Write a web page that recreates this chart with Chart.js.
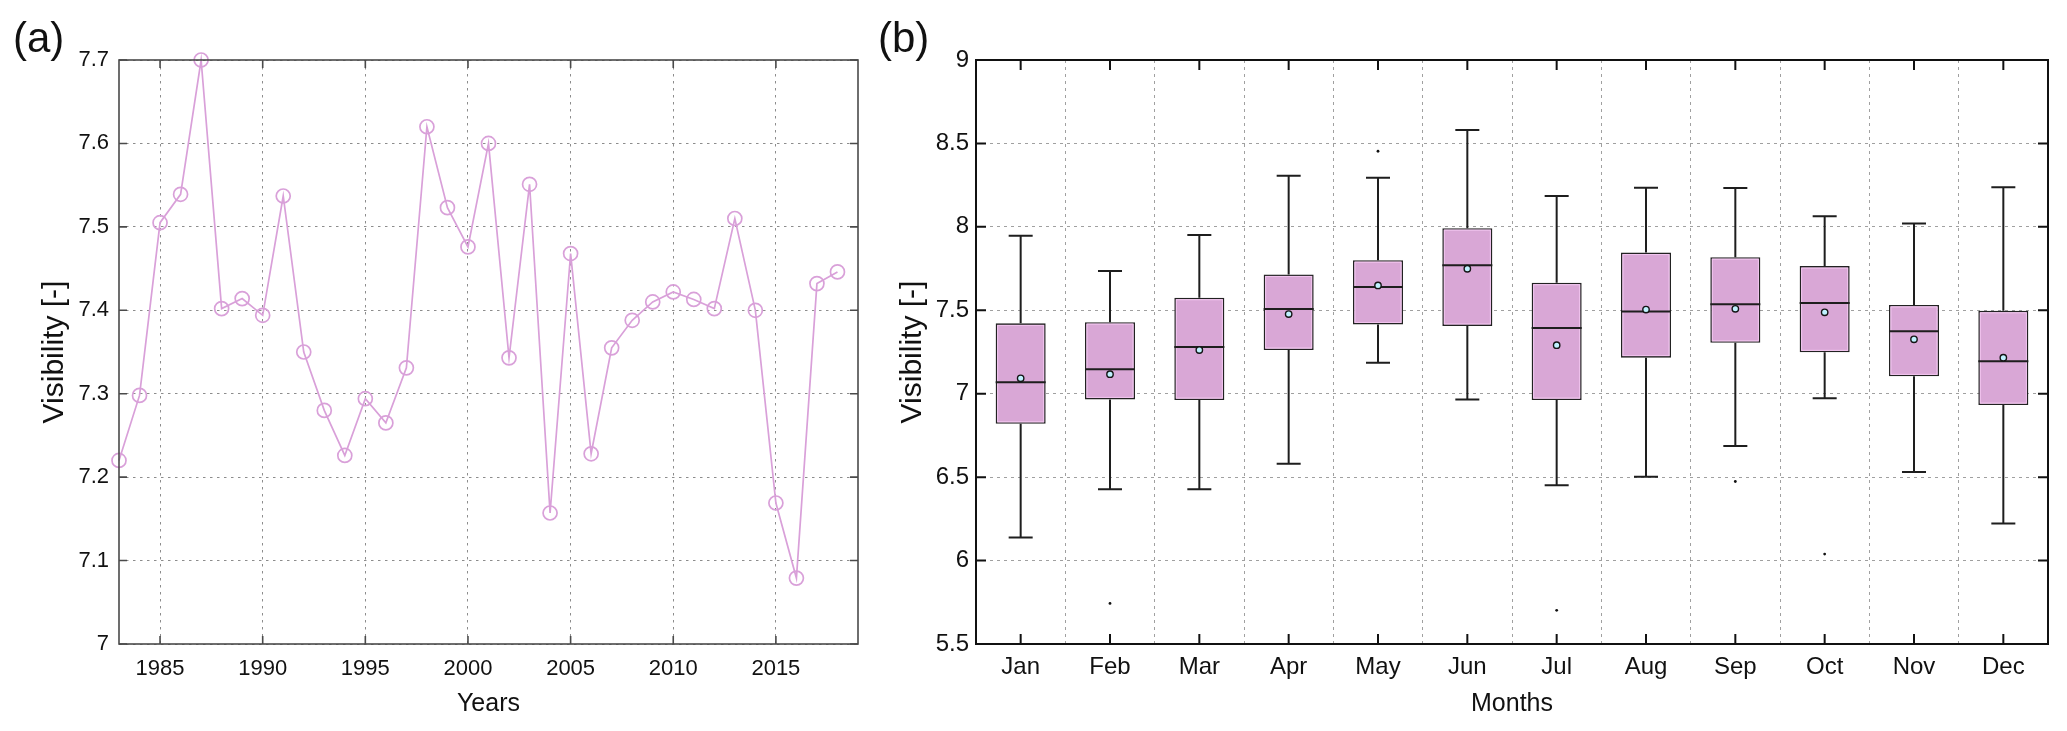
<!DOCTYPE html>
<html>
<head>
<meta charset="utf-8">
<script src="https://cdn.jsdelivr.net/npm/chart.js@4.4.0/dist/chart.umd.min.js"></script>
<style>
  html, body { margin: 0; padding: 0; background: #fff; }
  body { width: 2067px; height: 731px; position: relative; overflow: hidden; font-family: "Liberation Sans", Arial, sans-serif; }
  .wrap { position: absolute; top: 0; height: 731px; }
  .panel { position: absolute; font-size: 42px; line-height: 42px; color: #111; z-index: 2; }
</style>
</head>
<body>
<div class="wrap" style="left:0;width:880px"><canvas id="yearChart" width="880" height="731"></canvas></div>
<div class="wrap" style="left:880px;width:1187px"><canvas id="monthChart" width="1187" height="731"></canvas></div>
<div class="panel" style="left:13px;top:17px">(a)</div>
<div class="panel" style="left:878px;top:17px">(b)</div>
<script>
// (a) yearly mean visibility
const years = [1983, 1984, 1985, 1986, 1987, 1988, 1989, 1990, 1991, 1992, 1993, 1994,
  1995, 1996, 1997, 1998, 1999, 2000, 2001, 2002, 2003, 2004, 2005, 2006,
  2007, 2008, 2009, 2010, 2011, 2012, 2013, 2014, 2015, 2016, 2017, 2018];
const yearlyVisibility = [7.220, 7.298, 7.505, 7.539, 7.700, 7.402, 7.414, 7.394, 7.537, 7.350, 7.280, 7.226,
  7.294, 7.265, 7.331, 7.620, 7.523, 7.476, 7.600, 7.343, 7.551, 7.157, 7.468, 7.228,
  7.355, 7.388, 7.410, 7.422, 7.413, 7.402, 7.510, 7.400, 7.169, 7.079, 7.432, 7.446];
const yearTicks = [1985, 1990, 1995, 2000, 2005, 2010, 2015];
const yearlyValueTicks = [7, 7.1, 7.2, 7.3, 7.4, 7.5, 7.6, 7.7];

// (b) monthly box plots
const months = ['Jan', 'Feb', 'Mar', 'Apr', 'May', 'Jun', 'Jul', 'Aug', 'Sep', 'Oct', 'Nov', 'Dec'];
const whiskerLow = [6.139, 6.428, 6.428, 6.581, 7.186, 6.966, 6.451, 6.503, 6.687, 6.973, 6.531, 6.222];
const quartile1 = [6.820, 6.966, 6.962, 7.262, 7.415, 7.406, 6.962, 7.216, 7.305, 7.248, 7.104, 6.932];
const medians = [7.069, 7.147, 7.280, 7.507, 7.640, 7.770, 7.394, 7.493, 7.536, 7.543, 7.374, 7.195];
const quartile3 = [7.422, 7.429, 7.575, 7.715, 7.800, 7.992, 7.665, 7.846, 7.818, 7.765, 7.532, 7.497];
const whiskerHigh = [7.946, 7.736, 7.951, 8.306, 8.295, 8.581, 8.185, 8.235, 8.233, 8.063, 8.020, 8.237];
const means = [7.092, 7.117, 7.262, 7.477, 7.649, 7.749, 7.291, 7.504, 7.509, 7.488, 7.326, 7.216];
const outlierMonths = ['Feb', 'May', 'Jul', 'Sep', 'Oct'];
const outlierValues = [5.743, 8.453, 5.702, 6.474, 6.039];
const monthlyValueTicks = [5.5, 6, 6.5, 7, 7.5, 8, 8.5, 9];

const FONT = '"Liberation Sans", Arial, sans-serif';
const PLUM = '#d9a0d9';

// box around the plot area with inward tick marks (matlab style)
const framePlugin = {
    id: 'frame',
    afterDraw(chart, args, opts) {
        const { ctx, chartArea: a, scales: { x, y } } = chart;
        ctx.save();
        ctx.setLineDash([]);
        ctx.strokeStyle = opts.color;
        ctx.lineWidth = opts.width;
        ctx.beginPath();
        x.ticks.forEach((t, i) => {
            const px = x.getPixelForTick(i);
            ctx.moveTo(px, a.bottom); ctx.lineTo(px, a.bottom - opts.tick);
            ctx.moveTo(px, a.top); ctx.lineTo(px, a.top + opts.tick);
        });
        y.ticks.forEach((t, i) => {
            const py = y.getPixelForTick(i);
            ctx.moveTo(a.left, py); ctx.lineTo(a.left + opts.tick, py);
            ctx.moveTo(a.right, py); ctx.lineTo(a.right - opts.tick, py);
        });
        ctx.stroke();
        ctx.strokeRect(a.left, a.top, a.right - a.left, a.bottom - a.top);
        ctx.restore();
    }
};

// whiskers, caps and median lines drawn right after the boxes
const boxPlugin = {
    id: 'boxParts',
    afterDatasetDraw(chart, args) {
        if (args.index !== 0) return;
        const { ctx, scales: { y } } = chart;
        ctx.save();
        ctx.setLineDash([]);
        args.meta.data.forEach((bar, i) => {
            const { x, y: top, base, width } = bar.getProps(['x', 'y', 'base', 'width'], true);
            const half = width / 2;
            const cap = width * 0.24;
            const yHi = y.getPixelForValue(whiskerHigh[i]);
            const yLo = y.getPixelForValue(whiskerLow[i]);
            const yMed = y.getPixelForValue(medians[i]);

            // light inner edge of the box
            ctx.strokeStyle = '#f3c6f0';
            ctx.lineWidth = 1;
            ctx.strokeRect(x - half + 2, top + 2, width - 4, base - top - 4);

            ctx.strokeStyle = '#1e1e1e';
            ctx.lineWidth = 2;
            ctx.beginPath();
            ctx.moveTo(x, top); ctx.lineTo(x, yHi);
            ctx.moveTo(x, base); ctx.lineTo(x, yLo);
            ctx.moveTo(x - cap, yHi); ctx.lineTo(x + cap, yHi);
            ctx.moveTo(x - cap, yLo); ctx.lineTo(x + cap, yLo);
            ctx.moveTo(x - half, yMed); ctx.lineTo(x + half, yMed);
            ctx.stroke();
        });
        ctx.restore();
    }
};

function fixedWidth(w) { return (scale) => { scale.width = w; }; }
function fixedHeight(h) { return (scale) => { scale.height = h; }; }

new Chart(document.getElementById('yearChart'), {
    type: 'line',
    data: {
        datasets: [{
            data: years.map((yr, i) => ({ x: yr, y: yearlyVisibility[i] })),
            borderColor: PLUM,
            borderWidth: 1.7,
            tension: 0,
            pointRadius: 7,
            pointHoverRadius: 7,
            pointBackgroundColor: 'rgba(0,0,0,0)',
            pointBorderColor: PLUM,
            pointBorderWidth: 1.7,
            clip: false
        }]
    },
    options: {
        responsive: false,
        animation: false,
        events: [],
        layout: { padding: { left: 0, right: 22, top: 60, bottom: 0 } },
        plugins: {
            legend: { display: false },
            tooltip: { enabled: false },
            frame: { color: '#4a4a4a', width: 1.6, tick: 8 }
        },
        scales: {
            x: {
                type: 'linear',
                min: 1983,
                max: 2019,
                afterBuildTicks: (s) => { s.ticks = yearTicks.map(v => ({ value: v })); },
                afterFit: fixedHeight(87),
                grid: { color: '#8c8c8c', lineWidth: 1, drawTicks: false },
                border: { display: false, dash: [2.5, 4.5] },
                ticks: { padding: 12, color: '#111', font: { family: FONT, size: 22 }, callback: (v) => String(v) },
                title: { display: true, text: 'Years', color: '#111', font: { family: FONT, size: 25 }, padding: { top: 0, bottom: 12 } }
            },
            y: {
                min: 7,
                max: 7.7,
                afterBuildTicks: (s) => { s.ticks = yearlyValueTicks.map(v => ({ value: v })); },
                afterFit: fixedWidth(119),
                grid: { color: '#8c8c8c', lineWidth: 1, drawTicks: false },
                border: { display: false, dash: [2.5, 4.5] },
                ticks: { padding: 10, color: '#111', font: { family: FONT, size: 22 }, callback: (v) => String(v) },
                title: { display: true, text: 'Visibility [-]', color: '#111', font: { family: FONT, size: 30 }, padding: { top: 37, bottom: 0 } }
            }
        }
    },
    plugins: [framePlugin]
});

new Chart(document.getElementById('monthChart'), {
    type: 'bar',
    data: {
        labels: months,
        datasets: [
            {
                type: 'bar',
                data: months.map((m, i) => [quartile1[i], quartile3[i]]),
                backgroundColor: '#d9a7d6',
                borderColor: '#222',
                borderWidth: 1.6,
                borderSkipped: false,
                barPercentage: 0.56,
                categoryPercentage: 1,
                order: 3
            },
            {
                type: 'line',
                data: outlierMonths.map((m, i) => ({ x: m, y: outlierValues[i] })),
                showLine: false,
                pointRadius: 1.4,
                pointBackgroundColor: '#111',
                pointBorderWidth: 0,
                order: 2
            },
            {
                type: 'line',
                data: means,
                showLine: false,
                pointRadius: 3.2,
                pointBackgroundColor: '#bff2ff',
                pointBorderColor: '#151515',
                pointBorderWidth: 1.4,
                order: 1
            }
        ]
    },
    options: {
        responsive: false,
        animation: false,
        events: [],
        layout: { padding: { left: 0, right: 19, top: 60, bottom: 0 } },
        plugins: {
            legend: { display: false },
            tooltip: { enabled: false },
            frame: { color: '#111', width: 2, tick: 10 }
        },
        scales: {
            x: {
                z: 1,
                offset: true,
                afterFit: fixedHeight(87),
                grid: { offset: true, color: '#a0a0a0', lineWidth: 1, drawTicks: false },
                border: { display: false, dash: [3, 4] },
                ticks: { padding: 9, color: '#111', font: { family: FONT, size: 24 } },
                title: { display: true, text: 'Months', color: '#111', font: { family: FONT, size: 25 }, padding: { top: 0, bottom: 12 } }
            },
            y: {
                z: 1,
                min: 5.5,
                max: 9,
                afterBuildTicks: (s) => { s.ticks = monthlyValueTicks.map(v => ({ value: v })); },
                afterFit: fixedWidth(96),
                grid: { color: '#a0a0a0', lineWidth: 1, drawTicks: false },
                border: { display: false, dash: [3, 4] },
                ticks: { padding: 7, color: '#111', font: { family: FONT, size: 24 }, callback: (v) => String(v) },
                title: { display: true, text: 'Visibility [-]', color: '#111', font: { family: FONT, size: 30 }, padding: { top: 15, bottom: 0 } }
            }
        }
    },
    plugins: [boxPlugin, framePlugin]
});
</script>
</body>
</html>
